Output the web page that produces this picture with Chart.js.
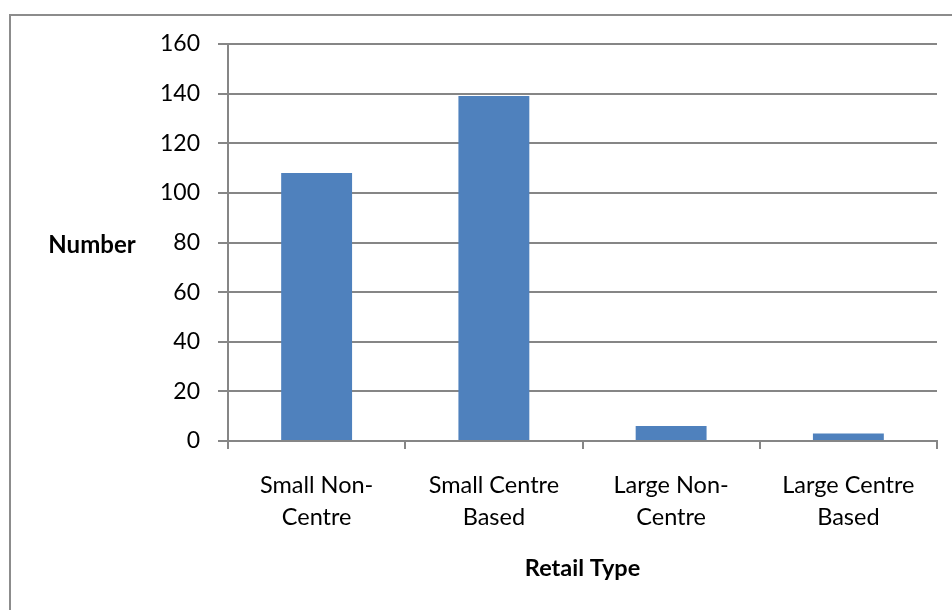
<!DOCTYPE html>
<html>
<head>
<meta charset="utf-8">
<script src="https://cdn.jsdelivr.net/npm/chart.js@4"></script>
<style>
  body { margin: 0; background: #fff; }
  canvas { display: block; }
</style>
</head>
<body>
<canvas id="chart" width="952" height="610"></canvas>
<script>
// retail types and counts
const categories = [["Small Non-", "Centre"], ["Small Centre", "Based"], ["Large Non-", "Centre"], ["Large Centre", "Based"]];
const counts = [108, 139, 6, 3];
const yMin = 0, yMax = 160, yStep = 20;

const GRID = "#868686";
const FONT = "Lato";

// outer frame and the horizontal y-axis title
const extras = {
    id: "extras",
    beforeDraw(chart) {
        const ctx = chart.ctx;
        ctx.save();
        ctx.fillStyle = "#fff";
        ctx.fillRect(0, 0, chart.width, chart.height);
        ctx.strokeStyle = "#8c8c8c";
        ctx.lineWidth = 2;
        ctx.beginPath();
        ctx.moveTo(10, chart.height);
        ctx.lineTo(10, 15);
        ctx.lineTo(chart.width, 15);
        ctx.stroke();
        ctx.restore();
    },
    afterDraw(chart) {
        const ctx = chart.ctx;
        const a = chart.chartArea;
        ctx.save();
        ctx.fillStyle = "#000";
        ctx.font = "bold 24px " + FONT;
        ctx.textAlign = "center";
        ctx.textBaseline = "middle";
        ctx.fillText("Number", 92, (a.top + a.bottom) / 2 + 3);
        ctx.restore();
    }
};

new Chart(document.getElementById("chart"), {
    type: "bar",
    data: {
        labels: categories,
        datasets: [{ data: counts, backgroundColor: "#4f81bd", barPercentage: 0.4, categoryPercentage: 1 }]
    },
    options: {
        responsive: false,
        animation: false,
        layout: { padding: { left: 0, top: 44, right: 15, bottom: 0 } },
        plugins: { legend: { display: false }, tooltip: { enabled: false } },
        scales: {
            x: {
                grid: { drawOnChartArea: false, drawTicks: true, tickLength: 8, color: GRID, lineWidth: 2 },
                border: { color: GRID, width: 2 },
                ticks: { color: "#000", font: { family: FONT, size: 23.5, lineHeight: 1.36 }, padding: 20, maxRotation: 0 },
                title: { display: true, text: "Retail Type", color: "#000", font: { family: FONT, size: 23.5, weight: "bold" }, padding: { bottom: 27 } },
                afterFit(scale) { scale.height = 169; }
            },
            y: {
                min: yMin, max: yMax,
                grid: { color: GRID, lineWidth: 2, tickLength: 10 },
                border: { color: GRID, width: 2 },
                ticks: { stepSize: yStep, color: "#000", font: { family: FONT, size: 23 }, padding: 18 },
                afterFit(scale) { scale.width = 228; }
            }
        }
    },
    plugins: [extras]
});
</script>
</body>
</html>
